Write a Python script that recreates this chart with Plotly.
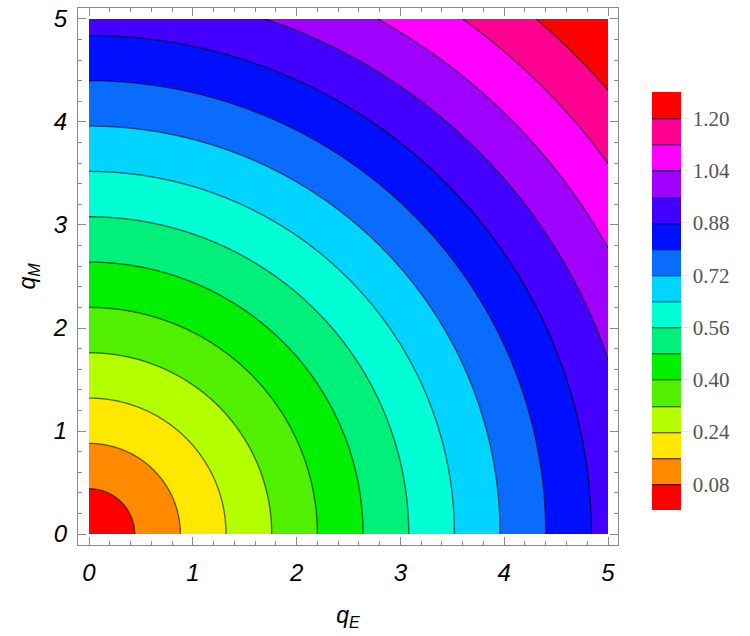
import numpy as np
import plotly.graph_objects as go

# --- data ---
levels = [0.08, 0.16, 0.24, 0.32, 0.40, 0.48, 0.56, 0.64, 0.72, 0.80,
          0.88, 0.96, 1.04, 1.12, 1.20]
colorbar_ticks = [0.08, 0.24, 0.40, 0.56, 0.72, 0.88, 1.04, 1.20]
axis_ticks = [0, 1, 2, 3, 4, 5]
# contour rings are equally spaced: 0.44 units of radius per 0.08 level step
ring_step_radius = 0.44
level_step = 0.08
band_colors = ["#FF0000", "#FF8A00", "#FFE800", "#B4FF00", "#50F000", "#00F000",
               "#00F07A", "#00FFD4", "#00D4FF", "#0A6CFF", "#0010FF", "#4400FF",
               "#A000FF", "#FF00FF", "#FF0090", "#FF0000"]

qE = np.linspace(0, 5, 401)
qM = np.linspace(0, 5, 401)
X, Y = np.meshgrid(qE, qM)
Z = np.sqrt(X**2 + Y**2) * (level_step / ring_step_radius)

n = len(band_colors)
cscale = []
for i, c in enumerate(band_colors):
    cscale.append([i / n, c])
    cscale.append([(i + 1) / n, c])

fig = go.Figure()
fig.add_trace(go.Contour(
    x=qE, y=qM, z=Z,
    zmin=0, zmax=levels[-1] + level_step,
    colorscale=cscale,
    contours=dict(start=levels[0], end=levels[-1], size=level_step,
                  coloring="fill", showlines=True),
    line=dict(color="rgba(0,0,0,0.55)", width=1.4),
    colorbar=dict(
        x=1.063, xanchor="left", y=0.4537, yanchor="middle",
        lenmode="pixels", len=418, thickness=29,
        xpad=0, ypad=0, outlinewidth=0,
        tickmode="array", tickvals=colorbar_ticks,
        ticktext=[f"{v:.2f}" for v in colorbar_ticks],
        ticks="outside", ticklen=8, tickcolor="#e6e6e6",
        tickfont=dict(family="Liberation Serif", size=21, color="#555555"),
    ),
    hoverinfo="skip",
))

axis_common = dict(
    showline=True, linecolor="#8a8a8a", linewidth=1, mirror="allticks",
    ticks="inside", ticklen=8, tickwidth=1, tickcolor="#8a8a8a",
    tickmode="array", tickvals=axis_ticks,
    minor=dict(dtick=0.2, ticks="inside", ticklen=4, tickcolor="#8a8a8a", tickwidth=1),
    showgrid=False, zeroline=False,
    tickfont=dict(family="Liberation Sans", size=24, color="black", style="italic"),
)

fig.update_layout(
    width=750, height=636,
    margin=dict(l=78, r=132, t=5, b=91),
    paper_bgcolor="white", plot_bgcolor="white",
    xaxis=dict(range=[-0.106, 5.096], ticklabelstandoff=6,
               title=dict(text="<i>q</i><sub><i>E</i></sub>", standoff=22,
                          font=dict(family="Liberation Sans", size=23, color="black")),
               **axis_common),
    yaxis=dict(range=[-0.106, 5.106], ticklabelstandoff=5,
               title=dict(text="<i>q</i><sub><i>M</i></sub>", standoff=10,
                          font=dict(family="Liberation Sans", size=23, color="black")),
               **axis_common),
)

fig.write_html("out.html")
